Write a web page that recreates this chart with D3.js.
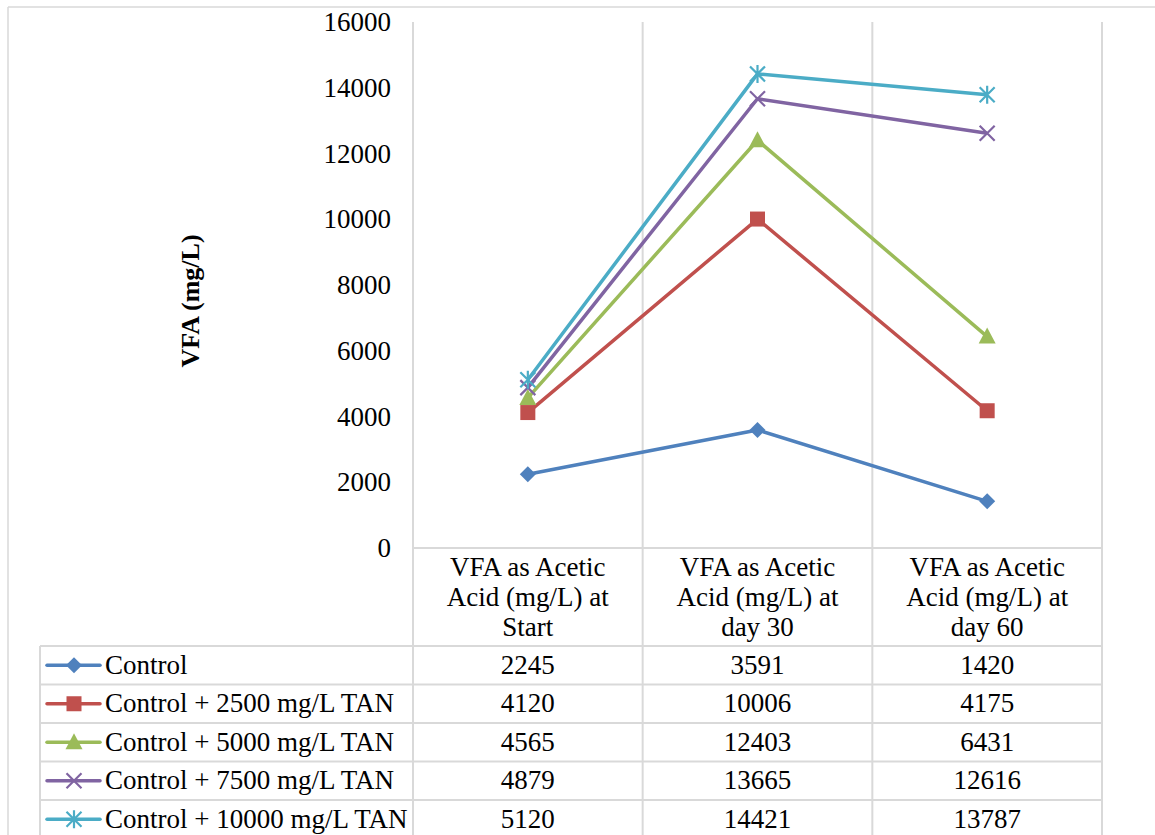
<!DOCTYPE html>
<html>
<head>
<meta charset="utf-8">
<script src="https://cdn.jsdelivr.net/npm/d3@7"></script>
<style>
  html, body { margin: 0; padding: 0; background: #fff; }
  svg { display: block; font-family: "Liberation Serif", "Times New Roman", serif; }
</style>
</head>
<body>
<svg id="chart" width="1155" height="835"></svg>
<script>
// Categories (three sampling points) and series values
const categories = [
  ["VFA as Acetic", "Acid (mg/L) at", "Start"],
  ["VFA as Acetic", "Acid (mg/L) at", "day 30"],
  ["VFA as Acetic", "Acid (mg/L) at", "day 60"]
];
const seriesNames = [
  "Control",
  "Control + 2500 mg/L TAN",
  "Control + 5000 mg/L TAN",
  "Control + 7500 mg/L TAN",
  "Control + 10000 mg/L TAN"
];
const control      = [2245, 3591, 1420];
const tan2500      = [4120, 10006, 4175];
const tan5000      = [4565, 12403, 6431];
const tan7500      = [4879, 13665, 12616];
const tan10000     = [5120, 14421, 13787];
const yTicks = [0, 2000, 4000, 6000, 8000, 10000, 12000, 14000, 16000];
const colors = ["#4F81BD", "#C0504D", "#9BBB59", "#8064A2", "#4BACC6"];
const markers = ["diamond", "square", "triangle", "x", "star"];

const seriesValues = [control, tan2500, tan5000, tan7500, tan10000];

const svg = d3.select("#chart");
const grid = "#d9d9d9";
const FONT = "Liberation Serif, Times New Roman, serif";
const FS = 27;

// Plot region
const plotLeft = 413, plotRight = 1102, plotTop = 22, zeroY = 548;
const x = d3.scaleBand().domain(d3.range(categories.length)).range([plotLeft, plotRight]);
const y = d3.scaleLinear().domain([0, 16000]).range([zeroY, plotTop]);

// Table geometry
const headerBottom = 646;
const rowH = 38.5;
const tableLeft = 40;

// Outer frame lines
svg.append("line").attr("x1", 8).attr("x2", 1155).attr("y1", 7).attr("y2", 7)
  .attr("stroke", grid).attr("stroke-width", 1.5);
svg.append("line").attr("x1", 8).attr("x2", 8).attr("y1", 7).attr("y2", 835)
  .attr("stroke", grid).attr("stroke-width", 1.5);

// Vertical category separators (run through the data table)
const vx = [plotLeft, ...categories.map((c, i) => x(i) + x.bandwidth())];
vx.forEach(v => {
  svg.append("line").attr("x1", v).attr("x2", v).attr("y1", plotTop).attr("y2", 835)
    .attr("stroke", grid).attr("stroke-width", 2);
});
// Legend column left edge
svg.append("line").attr("x1", tableLeft).attr("x2", tableLeft).attr("y1", headerBottom).attr("y2", 835)
  .attr("stroke", grid).attr("stroke-width", 2);

// Horizontal axis line and table row separators
svg.append("line").attr("x1", plotLeft).attr("x2", plotRight).attr("y1", zeroY).attr("y2", zeroY)
  .attr("stroke", grid).attr("stroke-width", 2);
for (let r = 0; r < seriesNames.length; r++) {
  const yy = headerBottom + r * rowH;
  svg.append("line").attr("x1", tableLeft).attr("x2", plotRight).attr("y1", yy).attr("y2", yy)
    .attr("stroke", grid).attr("stroke-width", 2);
}

// Y axis tick labels
const yAxis = d3.axisLeft(y).tickValues(yTicks).tickSize(0).tickPadding(0).tickFormat(d3.format("d"));
const ya = svg.append("g").attr("transform", `translate(391,0)`).call(yAxis)
  .attr("font-family", FONT).attr("font-size", FS);
ya.select(".domain").remove();
ya.selectAll("text").attr("fill", "#000").attr("dy", "0.32em");

// Y axis title
svg.append("text")
  .attr("transform", `translate(199,${(plotTop + zeroY) / 2 + 16}) rotate(-90)`)
  .attr("text-anchor", "middle")
  .attr("font-family", FONT)
  .attr("font-size", 26).attr("font-weight", "bold").attr("fill", "#000")
  .text("VFA (mg/L)");

// Category header cells
categories.forEach((lines, i) => {
  const t = svg.append("text").attr("text-anchor", "middle")
    .attr("font-family", FONT).attr("font-size", FS).attr("fill", "#000");
  lines.forEach((ln, k) => {
    t.append("tspan").attr("x", x(i) + x.bandwidth() / 2).attr("y", 576 + k * 30).text(ln);
  });
});

// Marker symbol drawing
function drawMarker(g, type, cx, cy, color) {
  const r = 8;
  if (type === "diamond") {
    g.append("path").attr("d", `M${cx},${cy - r}L${cx + r},${cy}L${cx},${cy + r}L${cx - r},${cy}Z`).attr("fill", color);
  } else if (type === "square") {
    g.append("rect").attr("x", cx - 7.5).attr("y", cy - 7.5).attr("width", 15).attr("height", 15).attr("fill", color);
  } else if (type === "triangle") {
    g.append("path").attr("d", `M${cx},${cy - 9}L${cx + 8.5},${cy + 7}L${cx - 8.5},${cy + 7}Z`).attr("fill", color);
  } else if (type === "x") {
    g.append("path").attr("d", `M${cx - 7.5},${cy - 7.5}L${cx + 7.5},${cy + 7.5}M${cx - 7.5},${cy + 7.5}L${cx + 7.5},${cy - 7.5}`)
      .attr("stroke", color).attr("stroke-width", 2.2);
  } else if (type === "star") {
    g.append("path").attr("d", `M${cx - 7.5},${cy - 7.5}L${cx + 7.5},${cy + 7.5}M${cx - 7.5},${cy + 7.5}L${cx + 7.5},${cy - 7.5}M${cx},${cy - 9}L${cx},${cy + 9}`)
      .attr("stroke", color).attr("stroke-width", 2.2);
  }
}

// Series lines and markers
const line = d3.line().x((d, i) => x(i) + x.bandwidth() / 2).y(d => y(d));
seriesValues.forEach((vals, s) => {
  const g = svg.append("g");
  g.append("path").attr("d", line(vals)).attr("fill", "none")
    .attr("stroke", colors[s]).attr("stroke-width", 3.5).attr("stroke-linejoin", "round");
  vals.forEach((v, i) => drawMarker(g, markers[s], x(i) + x.bandwidth() / 2, y(v), colors[s]));
});

// Data table rows with legend keys
seriesNames.forEach((name, s) => {
  const cy = headerBottom + s * rowH + rowH / 2;
  const g = svg.append("g").attr("font-family", FONT).attr("font-size", FS);
  g.append("line").attr("x1", 47).attr("x2", 100).attr("y1", cy).attr("y2", cy)
    .attr("stroke", colors[s]).attr("stroke-width", 3.5).attr("stroke-linecap", "round");
  drawMarker(g, markers[s], 74, cy, colors[s]);
  g.append("text").attr("x", 105).attr("y", cy + 8.5).attr("fill", "#000").text(name);
  seriesValues[s].forEach((v, i) => {
    g.append("text").attr("x", x(i) + x.bandwidth() / 2).attr("y", cy + 8.5)
      .attr("text-anchor", "middle").attr("fill", "#000").text(v);
  });
});
</script>
</body>
</html>
